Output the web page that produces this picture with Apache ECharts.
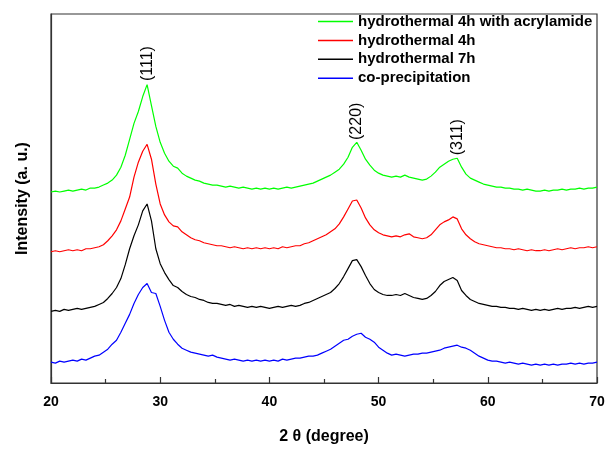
<!DOCTYPE html>
<html>
<head>
<meta charset="utf-8">
<title>XRD patterns</title>
<script src="https://cdn.jsdelivr.net/npm/echarts@6/dist/echarts.min.js"></script>
<style>
  html, body { margin: 0; padding: 0; background: #fff; }
  #chart { width: 608px; height: 450px; }
</style>
</head>
<body>
<div id="chart"></div>
<script>
// 2 theta grid: 20 .. 70 degree, one point every 0.4 degree
var thetaStart = 20;
var thetaStep = 0.4;

// intensity (a. u.) of each pattern, as stacked in the plot
var acrylamide4h = [
  192, 193, 192, 193, 194, 193, 194, 195, 194, 196,
  196, 197, 199, 201, 204, 209, 217, 229, 245, 261,
  273, 288, 300, 279, 258, 242, 231, 223, 218, 216,
  211, 208, 206, 204, 203, 201, 200, 199, 199, 198,
  197, 198, 197, 196, 197, 196, 195, 196, 195, 196,
  195, 196, 195, 196, 197, 196, 197, 198, 199, 200,
  201, 203, 205, 207, 209, 212, 215, 220, 227, 237,
  242, 234, 225, 219, 214, 211, 209, 208, 207, 208,
  207, 209, 207, 206, 205, 204, 205, 208, 212, 217,
  220, 223, 225, 226, 217, 210, 206, 204, 202, 200,
  199, 198, 197, 197, 196, 196, 195, 195, 194, 195,
  194, 193, 193, 194, 193, 194, 194, 195, 194, 195,
  195, 196, 195, 196, 196, 197
];
var hydro4h = [
  132, 133, 132, 133, 134, 133, 134, 133, 135, 135,
  136, 137, 139, 143, 148, 154, 163, 175, 187, 207,
  222, 233, 240, 225, 200, 180, 169, 162, 158, 157,
  152, 149, 146, 144, 143, 141, 140, 139, 138, 138,
  137, 136, 137, 136, 135, 136, 135, 136, 135, 136,
  135, 136, 135, 137, 136, 137, 138, 138, 140, 141,
  143, 145, 147, 149, 152, 155, 160, 167, 175, 183,
  184, 176, 166, 159, 154, 151, 149, 148, 147, 148,
  147, 149, 150, 147, 146, 145, 146, 149, 154, 159,
  162, 164, 167, 165, 155, 149, 145, 142, 140, 139,
  138, 137, 136, 136, 135, 135, 134, 135, 134, 133,
  134, 133, 133, 134, 133, 134, 135, 134, 135, 136,
  135, 136, 136, 137, 136, 137
];
var hydro7h = [
  72, 73, 72, 74, 73, 74, 75, 74, 75, 76,
  77, 79, 81, 85, 90, 96, 105, 119, 135, 148,
  159, 173, 180, 163, 135, 120, 111, 104, 98, 96,
  92, 89, 87, 86, 84, 83, 81, 80, 80, 79,
  78, 79, 77, 78, 77, 76, 77, 76, 77, 76,
  75, 76, 77, 76, 77, 78, 77, 78, 80, 81,
  83, 85, 87, 89, 91, 95, 100, 107, 115, 123,
  124, 117, 108, 100, 94, 91, 89, 88, 88, 89,
  88, 90, 88, 86, 85, 84, 85, 88, 92, 98,
  102, 104, 106, 103, 93, 88, 84, 82, 80, 79,
  78, 77, 77, 76, 76, 75, 75, 74, 75, 74,
  73, 74, 73, 74, 73, 74, 75, 74, 75, 75,
  76, 75, 76, 77, 76, 77
];
var coprecip = [
  21, 20, 22, 21, 22, 23, 22, 24, 23, 25,
  27, 28, 31, 34, 39, 43, 51, 60, 69, 80,
  89, 96, 100, 91, 90, 77, 63, 51, 44, 39,
  35, 33, 31, 30, 29, 28, 27, 28, 26, 25,
  24, 23, 24, 23, 22, 23, 22, 23, 22, 23,
  22, 23, 22, 24, 23, 24, 25, 25, 26, 27,
  27, 28, 30, 32, 34, 37, 40, 43, 44, 47,
  49, 50, 46, 44, 41, 36, 33, 30, 28, 29,
  28, 27, 28, 29, 29, 30, 30, 31, 32, 33,
  35, 36, 37, 38, 36, 35, 33, 30, 27, 25,
  23, 22, 22, 21, 20, 21, 20, 19, 20, 19,
  18, 19, 18, 19, 18, 19, 18, 19, 19, 20,
  19, 20, 19, 20, 20, 21
];

var seriesNames = [
  'hydrothermal 4h with acrylamide',
  'hydrothermal 4h',
  'hydrothermal 7h',
  'co-precipitation'
];
var seriesColors = ['#00ff00', '#ff0000', '#000000', '#0000ff'];
var seriesValues = [acrylamide4h, hydro4h, hydro7h, coprecip];

// reflections marked above the top pattern
var peakLabels = [
  { text: '(111)', theta: 28.8 },
  { text: '(220)', theta: 48.0 },
  { text: '(311)', theta: 57.2 }
];

var theta = acrylamide4h.map(function (v, i) {
  return Math.round((thetaStart + i * thetaStep) * 10) / 10;
});

var font = '"Liberation Sans", Arial, sans-serif';
var chart = echarts.init(document.getElementById('chart'), null, { renderer: 'canvas' });

var series = seriesValues.map(function (vals, k) {
  return {
    name: seriesNames[k],
    type: 'line',
    symbol: 'none',
    showSymbol: false,
    lineStyle: { width: 1.2, color: seriesColors[k] },
    itemStyle: { color: seriesColors[k] },
    data: vals.map(function (v, i) { return [theta[i], v]; })
  };
});

chart.setOption({
  animation: false,
  backgroundColor: '#fff',
  grid: {
    left: 51, right: 11, top: 14, bottom: 65,
    show: true, borderColor: '#333', borderWidth: 1.2
  },
  legend: {
    orient: 'vertical',
    left: 318,
    top: 14,
    padding: 0,
    icon: 'rect',
    itemWidth: 35,
    itemHeight: 1.5,
    itemGap: 3.9,
    data: seriesNames,
    textStyle: { fontFamily: font, fontSize: 15, fontWeight: 'bold', color: '#000', lineHeight: 14 }
  },
  xAxis: {
    type: 'value',
    min: 20,
    max: 70,
    interval: 10,
    name: '2 θ (degree)',
    nameLocation: 'middle',
    nameGap: 46,
    nameTextStyle: { fontFamily: font, fontSize: 16, fontWeight: 'bold', color: '#000' },
    axisLine: { show: true, lineStyle: { color: '#333', width: 1.2 } },
    axisTick: { show: true, inside: true, length: 6, lineStyle: { color: '#333', width: 1.2 } },
    minorTick: { show: true, splitNumber: 2, length: 4, lineStyle: { color: '#333', width: 1.2 } },
    splitLine: { show: false },
    axisLabel: { fontFamily: font, fontSize: 14, fontWeight: 'bold', color: '#000', margin: 12 }
  },
  yAxis: {
    type: 'value',
    min: 0,
    max: 371,
    name: 'Intensity (a. u.)',
    nameLocation: 'middle',
    nameGap: 20,
    nameTextStyle: { fontFamily: font, fontSize: 16, fontWeight: 'bold', color: '#000' },
    axisLine: { show: true, lineStyle: { color: '#333', width: 1.2 } },
    axisTick: { show: false },
    axisLabel: { show: false },
    splitLine: { show: false }
  },
  series: series
});

// put the hkl labels just above the top pattern's peaks
chart.setOption({
  graphic: peakLabels.map(function (p) {
    var idx = theta.indexOf(p.theta);
    var pt = chart.convertToPixel({ gridIndex: 0 }, [p.theta, acrylamide4h[idx]]);
    return {
      type: 'text',
      x: pt[0],
      y: pt[1] - 21,
      rotation: Math.PI / 2,
      style: {
        text: p.text,
        font: '16px ' + font,
        fill: '#000',
        align: 'center',
        verticalAlign: 'middle'
      }
    };
  })
});
</script>
</body>
</html>
